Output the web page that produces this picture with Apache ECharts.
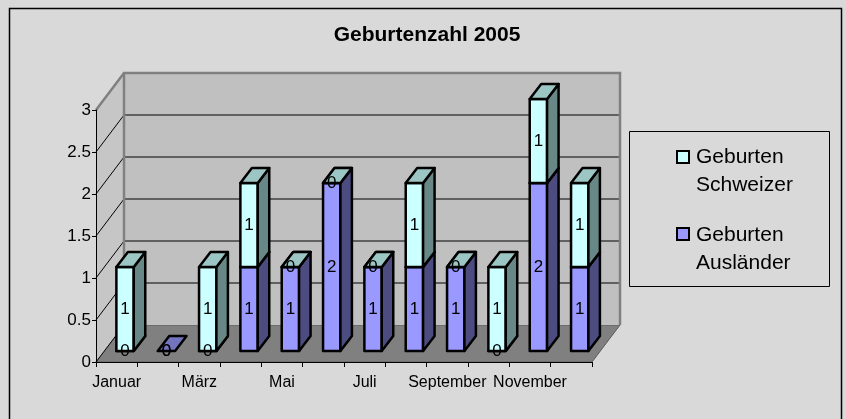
<!DOCTYPE html>
<html>
<head>
<meta charset="utf-8">
<script src="https://cdn.jsdelivr.net/npm/echarts@6/dist/echarts.min.js"></script>
<style>html,body{margin:0;padding:0;background:#d9d9d9;}#c{width:846px;height:419px;}</style>
</head>
<body>
<div id="c"></div>
<script>
// ---- data ----
const months = ['Januar','Februar','März','April','Mai','Juni','Juli','August','September','Oktober','November','Dezember'];
const seriesNames = ['Geburten Schweizer', 'Geburten Ausländer'];
const schweizer = [1, 0, 1, 1, 0, 0, 0, 1, 0, 1, 1, 1];
const auslaender = [0, 0, 0, 1, 1, 2, 1, 1, 1, 0, 2, 1];
const yMin = 0, yMax = 3, yStep = 0.5;

// ---- style constants ----
const FONT = "'Liberation Sans', Arial, sans-serif";
const DX = 28, DY = -37;           // floor / wall depth
const OFFX = 8.4, OFFY = -11;      // bar front plane offset
const BDX = 11.5, BDY = -15;       // bar depth
const BAR_FRAC = 0.42;
const colS = {front: '#CCFFFF', side: '#678886', top: '#9CC6C3'};
const colA = {front: '#9999FF', side: '#4C4C80', top: '#7373BF'};

const levels = [];
for (let v = yMin; v <= yMax + 1e-9; v += yStep) levels.push(+v.toFixed(2));

function wallsRender(params, api) {
  const cs = params.coordSys;
  const x0 = cs.x, x1 = cs.x + cs.width;
  const yb = api.coord([0, yMin])[1];
  const yt = api.coord([0, yMax])[1];
  const ch = [];
  ch.push({type: 'polygon', shape: {points: [[x0, yb], [x1, yb], [x1 + DX, yb + DY], [x0 + DX, yb + DY]]},
    style: {fill: '#808080', stroke: '#5a5a5a', lineWidth: 1}});
  ch.push({type: 'polygon', shape: {points: [[x0, yb], [x0 + DX, yb + DY], [x0 + DX, yt + DY], [x0, yt]]},
    style: {fill: '#C6C6C6', stroke: null}});
  ch.push({type: 'rect', shape: {x: x0 + DX, y: yt + DY, width: x1 - x0, height: yb - yt},
    style: {fill: '#C0C0C0', stroke: null}});
  levels.forEach(v => {
    const y = api.coord([0, v])[1];
    if (v < yMax) {
      ch.push({type: 'line', shape: {x1: x0, y1: y, x2: x0 + DX, y2: y + DY}, style: {stroke: '#000', lineWidth: 1}});
    }
    if (v > yMin && v < yMax) {
      ch.push({type: 'line', shape: {x1: x0 + DX, y1: y + DY, x2: x1 + DX, y2: y + DY}, style: {stroke: '#000', lineWidth: 1}});
    }
  });
  ch.push({type: 'polyline', shape: {points: [[x0, yt], [x0 + DX, yt + DY], [x1 + DX, yt + DY], [x1 + DX, yb + DY]]},
    style: {stroke: '#808080', lineWidth: 2.5, fill: null}});
  ch.push({type: 'line', shape: {x1: x0 + DX, y1: yt + DY, x2: x0 + DX, y2: yb + DY}, style: {stroke: '#808080', lineWidth: 2.5}});
  return {type: 'group', children: ch};
}

function makeBarRender(col, skipFlatAtZero) {
  return function (params, api) {
    const cat = api.value(0), base = api.value(1), val = api.value(2);
    const bw = api.size([1, 0])[0];
    const w = bw * BAR_FRAC;
    const c0 = api.coord([cat, base]);
    const c1 = api.coord([cat, base + val]);
    const xl = c0[0] - w / 2 + OFFX, xr = xl + w;
    const yb = c0[1] + OFFY, yt = c1[1] + OFFY;
    const ch = [];
    const st = {stroke: '#000', lineWidth: 2.5, lineJoin: 'round'};
    if (!(val === 0 && base === 0 && skipFlatAtZero)) {
      if (val > 0) {
        ch.push({type: 'rect', shape: {x: xl, y: yt, width: w, height: yb - yt}, style: Object.assign({fill: col.front}, st)});
        ch.push({type: 'polygon', shape: {points: [[xr, yb], [xr + BDX, yb + BDY], [xr + BDX, yt + BDY], [xr, yt]]},
          style: Object.assign({fill: col.side}, st)});
      }
      ch.push({type: 'polygon', shape: {points: [[xl, yt], [xr, yt], [xr + BDX, yt + BDY], [xl + BDX, yt + BDY]]},
        style: Object.assign({fill: col.top}, st)});
    }
    ch.push({type: 'text', z2: 50, style: {text: String(val), x: (xl + xr) / 2, y: (yt + yb) / 2,
      align: 'center', verticalAlign: 'middle', font: '17px ' + FONT, fill: '#000'}});
    return {type: 'group', children: ch};
  };
}

const dataA = months.map((m, i) => [i, 0, auslaender[i]]);
const dataS = months.map((m, i) => [i, auslaender[i], schweizer[i]]);

const chart = echarts.init(document.getElementById('c'), null, {renderer: 'canvas'});
chart.setOption({
  animation: false,
  backgroundColor: '#D9D9D9',
  title: {text: 'Geburtenzahl 2005', left: 427, textAlign: 'center', top: 25, padding: 0,
    textStyle: {fontFamily: FONT, fontSize: 21, fontWeight: 'bold', color: '#000'}},
  grid: {left: 96, top: 110, width: 496, height: 252, containLabel: false},
  xAxis: {type: 'category', data: months, z: 5,
    axisLine: {lineStyle: {color: '#000', width: 1}},
    axisTick: {show: true, interval: 0, length: 5, lineStyle: {color: '#000'}},
    axisLabel: {interval: 1, margin: 13, fontFamily: FONT, fontSize: 16, color: '#000'},
    splitLine: {show: false}},
  yAxis: {type: 'value', min: yMin, max: yMax, interval: yStep, z: 5,
    axisLine: {show: true, lineStyle: {color: '#000', width: 1}},
    axisTick: {show: true, length: 4, lineStyle: {color: '#000'}},
    axisLabel: {margin: 5, fontFamily: FONT, fontSize: 17, color: '#000'},
    splitLine: {show: false}},
  graphic: [
    {type: 'rect', z: -10, silent: true, shape: {x: 9.5, y: 8.5, width: 832, height: 420},
      style: {fill: '#D9D9D9', stroke: '#000', lineWidth: 1.5}},
    {type: 'rect', z: 10, shape: {x: 629.5, y: 131.5, width: 200, height: 155}, style: {fill: '#D9D9D9', stroke: '#000', lineWidth: 1}},
    {type: 'rect', z: 10, shape: {x: 677, y: 151, width: 12, height: 12}, style: {fill: colS.front, stroke: '#000', lineWidth: 2}},
    {type: 'rect', z: 10, shape: {x: 677, y: 228, width: 12, height: 12}, style: {fill: colA.front, stroke: '#000', lineWidth: 2}},
    {type: 'text', z: 10, style: {text: seriesNames[0].split(' ')[0], x: 696, y: 157, verticalAlign: 'middle', font: '21px ' + FONT, fill: '#000'}},
    {type: 'text', z: 10, style: {text: seriesNames[0].split(' ')[1], x: 696, y: 185.5, verticalAlign: 'middle', font: '21px ' + FONT, fill: '#000'}},
    {type: 'text', z: 10, style: {text: seriesNames[1].split(' ')[0], x: 696, y: 235, verticalAlign: 'middle', font: '21px ' + FONT, fill: '#000'}},
    {type: 'text', z: 10, style: {text: seriesNames[1].split(' ')[1], x: 696, y: 263.5, verticalAlign: 'middle', font: '21px ' + FONT, fill: '#000'}}
  ],
  series: [
    {type: 'custom', name: 'walls', z: 1, silent: true, renderItem: wallsRender, data: [[0, 0]], encode: {x: 0, y: 1}},
    {type: 'custom', name: seriesNames[1], z: 2, renderItem: makeBarRender(colA, false), data: dataA, encode: {x: 0, y: 1}},
    {type: 'custom', name: seriesNames[0], z: 2, renderItem: makeBarRender(colS, true), data: dataS, encode: {x: 0, y: 1}}
  ]
});
</script>
</body>
</html>
